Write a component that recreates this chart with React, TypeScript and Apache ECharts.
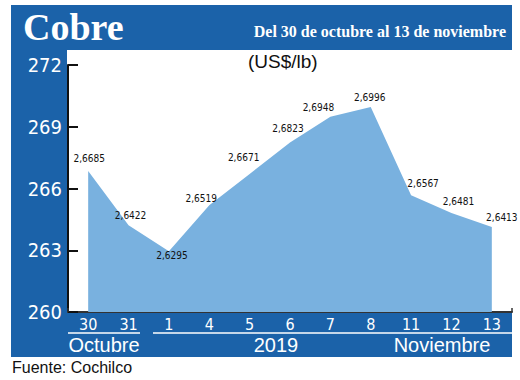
import React, { useEffect, useRef } from "react";
import * as echarts from "echarts";

const categories = ["30", "31", "1", "4", "5", "6", "7", "8", "11", "12", "13"];
const copperUsdLb = [2.6685, 2.6422, 2.6295, 2.6519, 2.6671, 2.6823, 2.6948, 2.6996, 2.6567, 2.6481, 2.6413];
const yMin = 260;
const yMax = 272;
const yStep = 3;
const monthLabels = ["Octubre", "2019", "Noviembre"];
const titleText = "Cobre";
const subtitleText = "Del 30 de octubre al 13 de noviembre";
const unitText = "(US$/lb)";
const sourceText = "Fuente: Cochilco";

// label nudges (styling only)
const labelOffsets: [number, number][] = [
  [1, -2], [2, 1], [3, 15], [-8, 4], [-6, -6], [-2, -4], [-12, 1], [-1, 1], [12, -1], [7, -1], [10, 1],
];

const BLUE = "#1b62a9";
const AREA = "#79b1df";
const NARROW = '"Liberation Sans Narrow", "DejaVu Sans Condensed", "Liberation Sans", sans-serif';
const SANS = '"Liberation Sans", Arial, sans-serif';
const SERIF = '"Liberation Serif", "DejaVu Serif", serif';

export default function App() {
  const ref = useRef<HTMLDivElement>(null);
  useEffect(() => {
    if (!ref.current) return;
    const chart = echarts.init(ref.current, undefined, { renderer: "svg" });
    const seriesData = copperUsdLb.map((v, i) => ({
      value: Math.round(v * 100 * 100) / 100,
      label: { offset: labelOffsets[i] },
    }));
    chart.setOption({
      animation: false,
      grid: { left: 68, top: 65, width: 444, height: 247, containLabel: false },
      xAxis: {
        type: "category",
        data: categories,
        boundaryGap: true,
        axisLine: { show: true, lineStyle: { color: "#333", width: 2 } },
        axisTick: { show: true, inside: true, length: 4, lineStyle: { color: "#333", width: 1.5 } },
        axisLabel: { color: "#fff", fontSize: 16, fontFamily: NARROW, margin: 4 },
        splitLine: { show: false },
      },
      yAxis: {
        type: "value",
        min: yMin,
        max: yMax,
        interval: yStep,
        axisLine: { show: true, lineStyle: { color: "#111", width: 2 } },
        axisTick: { show: true, inside: true, length: 10, lineStyle: { color: "#111", width: 2 } },
        axisLabel: { color: "#fff", fontSize: 20, fontFamily: NARROW, margin: 6 },
        splitLine: { show: false },
      },
      series: [
        {
          type: "line",
          data: seriesData,
          symbol: "circle",
          symbolSize: 1,
          showSymbol: true,
          itemStyle: { color: "rgba(0,0,0,0)", borderWidth: 0 },
          lineStyle: { width: 0, color: AREA },
          areaStyle: { color: AREA, opacity: 1 },
          z: 3,
          label: {
            show: true,
            position: "top",
            color: "#111",
            fontSize: 10,
            fontFamily: NARROW,
            formatter: (p: any) => copperUsdLb[p.dataIndex].toFixed(4).replace(".", ","),
          },
        },
      ],
      graphic: [
        { type: "rect", z: -20, silent: true, shape: { x: 11, y: 5, width: 501, height: 352 }, style: { fill: BLUE } },
        { type: "rect", z: -19, silent: true, shape: { x: 67, y: 50, width: 445, height: 263 }, style: { fill: "#fff" } },
        {
          type: "text", z: 10, x: 23, y: 27,
          style: { text: titleText, fill: "#fff", fontSize: 38, fontWeight: "bold", fontFamily: SERIF, textAlign: "left", textVerticalAlign: "middle" },
        },
        {
          type: "text", z: 10, x: 506, y: 31,
          style: { text: subtitleText, fill: "#fff", fontSize: 16, fontWeight: "bold", fontFamily: SERIF, textAlign: "right", textVerticalAlign: "middle" },
        },
        {
          type: "text", z: 10, x: 248, y: 61,
          style: { text: unitText, fill: "#111", fontSize: 19, fontFamily: SANS, textAlign: "left", textVerticalAlign: "middle" },
        },
        { type: "line", z: 10, shape: { x1: 68, y1: 333, x2: 140, y2: 333 }, style: { stroke: "#fff", lineWidth: 1.5 } },
        { type: "line", z: 10, shape: { x1: 153, y1: 333, x2: 512, y2: 333 }, style: { stroke: "#fff", lineWidth: 1.5 } },
        {
          type: "text", z: 10, x: 104, y: 345,
          style: { text: monthLabels[0], fill: "#fff", fontSize: 20, fontFamily: SANS, textAlign: "center", textVerticalAlign: "middle" },
        },
        {
          type: "text", z: 10, x: 276, y: 345,
          style: { text: monthLabels[1], fill: "#fff", fontSize: 20, fontFamily: SANS, textAlign: "center", textVerticalAlign: "middle" },
        },
        {
          type: "text", z: 10, x: 442, y: 345,
          style: { text: monthLabels[2], fill: "#fff", fontSize: 20, fontFamily: SANS, textAlign: "center", textVerticalAlign: "middle" },
        },
        {
          type: "text", z: 10, x: 12, y: 367,
          style: { text: sourceText, fill: "#111", fontSize: 16, fontFamily: SANS, textAlign: "left", textVerticalAlign: "middle" },
        },
      ],
    });
    return () => chart.dispose();
  }, []);
  return (
    <div
      ref={ref}
      style={{ position: "absolute", left: 0, top: 0, width: 520, height: 380, background: "#fff" }}
    />
  );
}
